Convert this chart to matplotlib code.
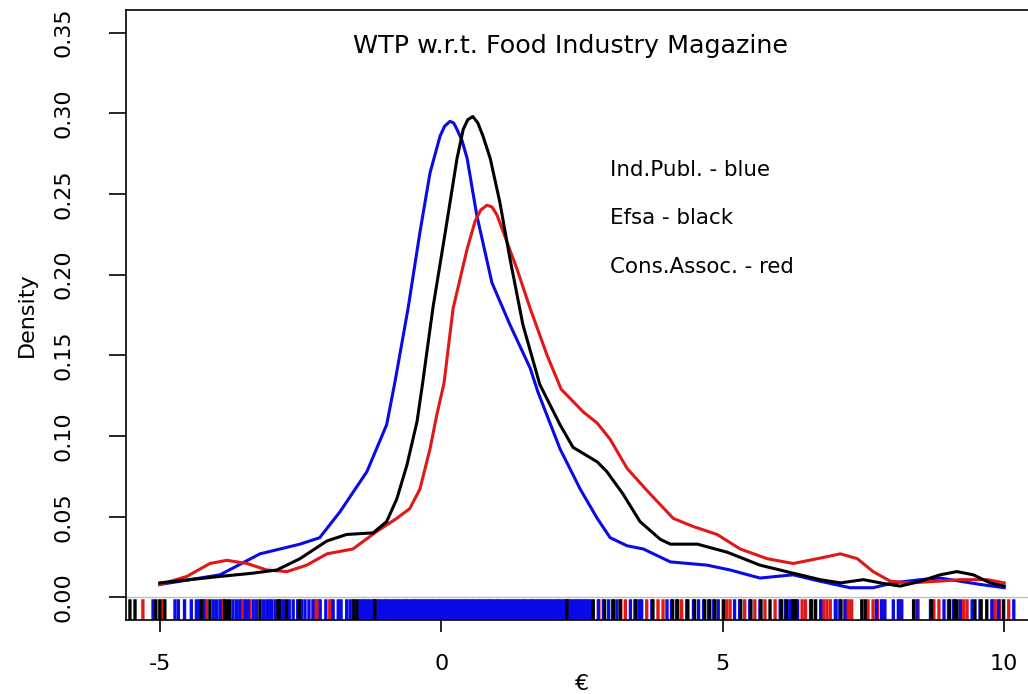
import matplotlib.pyplot as plt

# === density curves ===
blue_x = [-5, -3.93, -3.22, -2.51, -2.16, -1.80, -1.32, -0.97, -0.82, -0.59, -0.38, -0.20, -0.02, 0.06,
          0.155, 0.22, 0.28, 0.37, 0.46, 0.63, 0.90, 1.22, 1.58, 1.72, 2.11, 2.47, 2.77, 3.00, 3.30, 3.59,
          4.07, 4.72, 5.13, 5.66, 6.25, 6.73, 7.26, 7.67, 8.03, 8.51, 8.86, 9.22, 9.58, 10]
blue_y = [0.008, 0.014, 0.027, 0.033, 0.037, 0.053, 0.078, 0.107, 0.134, 0.179, 0.226, 0.263, 0.286, 0.292,
          0.295, 0.294, 0.290, 0.283, 0.272, 0.237, 0.195, 0.169, 0.142, 0.127, 0.092, 0.067, 0.049, 0.037,
          0.032, 0.030, 0.022, 0.020, 0.017, 0.012, 0.014, 0.010, 0.006, 0.006, 0.009, 0.011, 0.012, 0.010,
          0.008, 0.006]

black_x = [-5, -3.93, -3.35, -2.92, -2.51, -2.03, -1.68, -1.21, -0.97, -0.79, -0.61, -0.43, -0.33, -0.15,
           0.07, 0.28, 0.39, 0.47, 0.56, 0.65, 0.74, 0.87, 1.04, 1.22, 1.45, 1.75, 2.11, 2.34, 2.77, 2.94,
           3.23, 3.53, 3.89, 4.07, 4.55, 5.08, 5.66, 6.25, 6.73, 7.09, 7.50, 7.80, 8.15, 8.51, 8.86, 9.16,
           9.45, 9.75, 10]
black_y = [0.009, 0.013, 0.015, 0.017, 0.024, 0.035, 0.039, 0.040, 0.047, 0.061, 0.082, 0.109, 0.133, 0.179,
           0.226, 0.272, 0.290, 0.296, 0.298, 0.294, 0.286, 0.272, 0.245, 0.210, 0.169, 0.132, 0.107, 0.093,
           0.084, 0.078, 0.064, 0.047, 0.036, 0.033, 0.033, 0.028, 0.020, 0.015, 0.011, 0.009, 0.011, 0.009,
           0.007, 0.010, 0.014, 0.016, 0.014, 0.009, 0.007]

red_x = [-5, -4.52, -4.11, -3.81, -3.45, -3.10, -2.74, -2.39, -2.03, -1.57, -1.14, -0.79, -0.56, -0.38,
         -0.20, -0.08, 0.05, 0.21, 0.46, 0.60, 0.70, 0.81, 0.90, 0.99, 1.17, 1.35, 1.58, 1.88, 2.13, 2.52,
         2.77, 3.00, 3.30, 3.66, 4.12, 4.47, 4.90, 5.31, 5.79, 6.25, 6.68, 7.09, 7.39, 7.67, 7.98, 8.33,
         8.81, 9.22, 9.70, 10]
red_y = [0.008, 0.013, 0.021, 0.023, 0.021, 0.017, 0.016, 0.020, 0.027, 0.030, 0.041, 0.049, 0.055, 0.067,
         0.092, 0.113, 0.133, 0.179, 0.216, 0.233, 0.240, 0.243, 0.242, 0.237, 0.220, 0.203, 0.179, 0.150,
         0.129, 0.115, 0.108, 0.098, 0.080, 0.066, 0.049, 0.044, 0.039, 0.030, 0.024, 0.021, 0.024, 0.027,
         0.024, 0.016, 0.010, 0.009, 0.010, 0.011, 0.011, 0.009]

# === rug values (observations) ===
rug_blue = [-5.12, -4.73, -4.67, -4.56, -4.44, -4.35, -4.30, -4.22, -4.05, -3.99, -3.93, -3.70, -3.64,
            -3.58, -3.48, -3.43, -3.34, -3.28, -3.16, -3.10, -3.05, -3.01, -2.95, -2.85, -2.80, -2.70,
            -2.63, -2.55, -2.48, -2.42, -2.35, -2.28, -2.15, -2.05, -1.92, -1.83, -1.78, -1.68, -1.62,
            -1.57,
            -1.46, -1.42, -1.38, -1.35, -1.31, -1.27, -1.22, -1.19, -1.15, -1.11, -1.07, -1.03, -0.99,
            -0.96, -0.92, -0.88, -0.84, -0.80, -0.77, -0.73, -0.69, -0.65, -0.62, -0.58, -0.54, -0.50,
            -0.47, -0.43, -0.39, -0.35, -0.32, -0.28, -0.24, -0.20, -0.17, -0.13, -0.09, -0.05, -0.02,
            0.02, 0.06, 0.10, 0.13, 0.17, 0.21, 0.25, 0.28, 0.32, 0.36, 0.40, 0.43, 0.47, 0.51, 0.55,
            0.58, 0.62, 0.66, 0.70, 0.73, 0.77, 0.81, 0.85, 0.88, 0.92, 0.96, 1.00, 1.03, 1.07, 1.11,
            1.15, 1.18, 1.22, 1.26, 1.30, 1.33, 1.37, 1.41, 1.45, 1.48, 1.52, 1.56, 1.60, 1.63, 1.67,
            1.71, 1.75, 1.78, 1.82, 1.86, 1.90, 1.93, 1.97, 2.01, 2.05, 2.08, 2.12, 2.16, 2.20, 2.24,
            2.27, 2.31, 2.35, 2.39, 2.42, 2.46, 2.50, 2.54, 2.57, 2.61, 2.65,
            2.79, 2.88, 2.97, 3.04, 3.12, 3.36, 3.44, 3.52, 3.56, 3.74, 4.01, 4.09, 4.18, 4.36, 4.48,
            4.57, 4.66, 4.75, 4.84, 4.92, 5.21, 5.30, 5.48, 5.66, 6.02, 6.11, 6.19, 6.23, 6.28, 6.33,
            6.56, 6.74, 7.00, 7.08, 7.17, 7.73, 7.82, 7.88, 8.03, 8.12, 8.18, 8.45, 8.69, 8.93, 9.01,
            9.10, 9.22, 9.43, 9.57, 9.78, 9.90, 10.17]
rug_black = [-5.53, -5.44, -5.07, -5.00, -4.91, -4.26, -4.11, -3.85, -3.81, -3.76, -3.22, -2.90, -2.88,
             -2.75, -2.52, -1.55, -1.50, -1.18, 2.23, 2.70, 2.90, 3.06, 3.18, 3.46, 3.76, 4.11, 4.20,
             4.38, 4.50, 4.68, 4.77, 4.86, 5.01, 5.32, 5.50, 5.68, 5.84, 6.04, 6.13, 6.25, 6.30, 6.58,
             6.65, 7.10, 7.47, 7.53, 8.39, 8.71, 9.03, 9.12, 9.16, 9.48, 9.59, 9.69, 9.99]
rug_red = [-5.30, -4.95, -4.20, -4.17, -3.90, -3.87, -3.55, -3.52, -3.40, -2.25, -2.21, -2.18, -1.98,
           -1.95, 2.80, 3.19, 3.27, 3.65, 3.85, 3.94, 4.27, 5.07, 5.13, 5.39, 5.57, 5.75, 5.93, 6.41,
           6.47, 6.79, 6.85, 6.91, 7.02, 7.19, 7.23, 7.29, 7.58, 7.67, 7.75, 7.84, 8.14, 8.47, 8.75,
           8.84, 9.28, 9.34, 9.80, 9.84, 9.92, 10.08]

y_ticks = [0.00, 0.05, 0.10, 0.15, 0.20, 0.25, 0.30, 0.35]
x_ticks = [-5, 0, 5, 10]
legend_lines = ["Ind.Publ. - blue", "Efsa - black", "Cons.Assoc. - red"]
legend_y = [0.265, 0.235, 0.205]

BLUE = "#0a0ae6"
RED = "#e01818"

plt.rcParams['font.family'] = ['DejaVu Sans']

fig = plt.figure(figsize=(10.28, 6.94), dpi=100)
ax = fig.add_axes([126 / 1028, 74 / 694, 912 / 1028, 610 / 694])

ax.axhline(0, color="#bebebe", lw=1.0, zorder=1)

# rug along the bottom of the plot region
for vals, col in [(rug_red, RED), (rug_blue, BLUE), (rug_black, "black")]:
    ax.vlines(vals, 0, 0.034, transform=ax.get_xaxis_transform(), colors=col, lw=2.4,
              snap=False, zorder=2)

ax.plot(blue_x, blue_y, color=BLUE, lw=2.2, zorder=3)
ax.plot(black_x, black_y, color="black", lw=2.2, zorder=4)
ax.plot(red_x, red_y, color=RED, lw=2.2, zorder=3)

ax.text(2.3, 0.342, "WTP w.r.t. Food Industry Magazine", ha="center", va="center", fontsize=18.3)
for txt, yy in zip(legend_lines, legend_y):
    ax.text(3.0, yy, txt, ha="left", va="center", fontsize=15.4)

ax.set_xlim(-5.6, 10.6)
ax.set_ylim(-0.014, 0.364)
ax.set_xticks(x_ticks)
ax.set_xticklabels([str(v) for v in x_ticks])
ax.set_yticks(y_ticks)
ax.set_yticklabels(["%.2f" % v for v in y_ticks])
for lab in ax.get_yticklabels():
    lab.set_rotation(90)
    lab.set_va("center")

ax.tick_params(axis="x", length=8.6, width=1.2, pad=16, labelsize=16)
ax.tick_params(axis="y", length=12, width=1.2, pad=26, labelsize=16)
for s in ax.spines.values():
    s.set_linewidth(1.2)

ax.set_xlabel("€", fontsize=16, labelpad=0)
ax.set_ylabel("Density", fontsize=16, labelpad=12)

fig.savefig("out.png", dpi=100)
